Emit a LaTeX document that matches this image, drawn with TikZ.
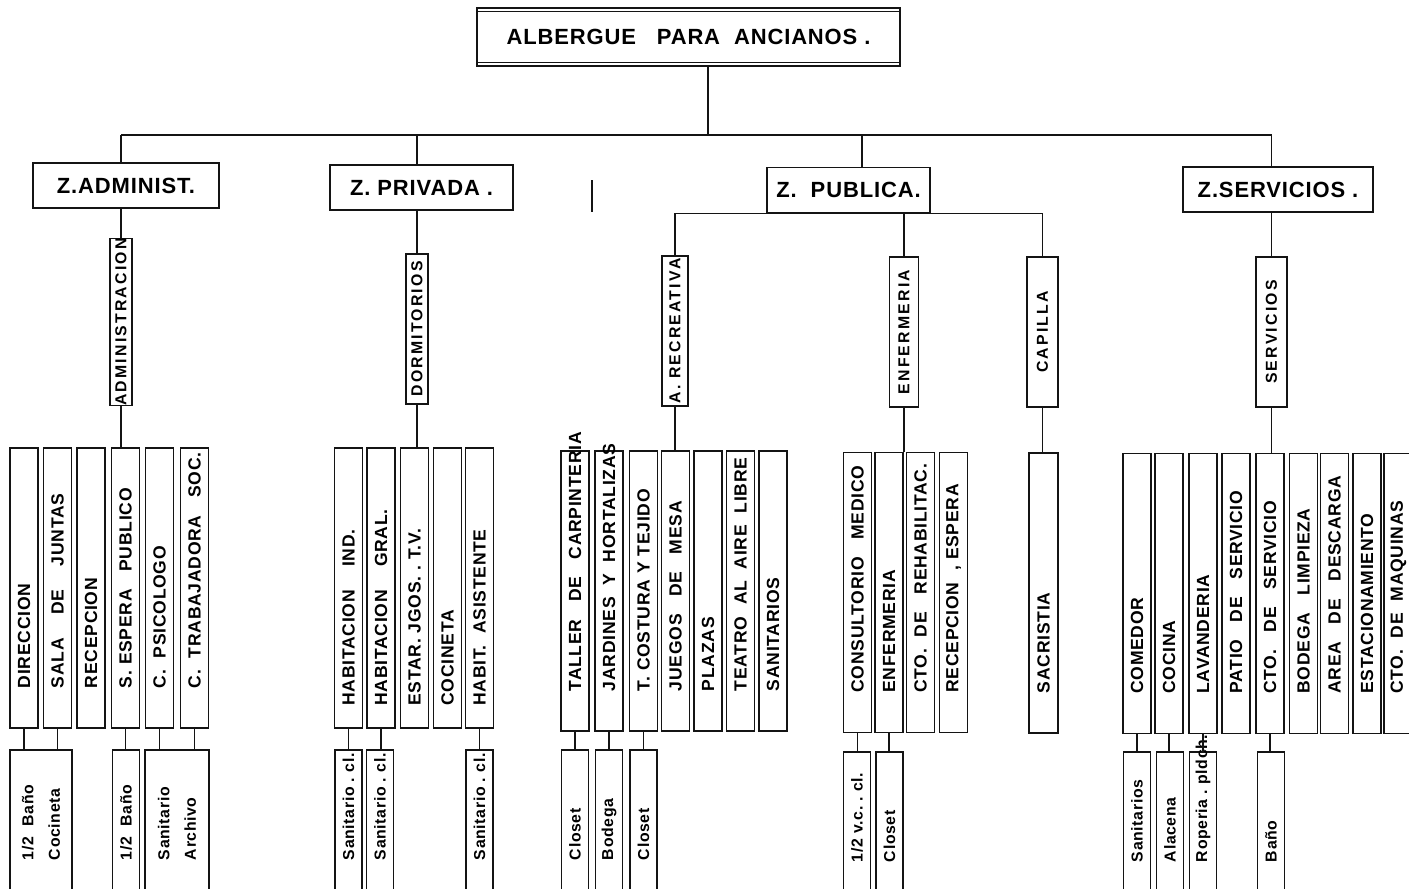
\documentclass[tikz,border=0pt]{standalone}
\usepackage{fontspec}
\setmainfont{Liberation Sans}[LetterSpace=4]
\newfontfamily\widefont{Liberation Sans}[LetterSpace=14]
\usepackage{tikz}
\usetikzlibrary{calc}
\definecolor{plink}{RGB}{20,20,20}
\tikzset{
  pbox/.style={
    draw=plink, line width=0.75pt, inner sep=0pt, fill=white
  },
  headbox/.style={pbox, minimum width=8.46cm, minimum height=1.16cm,
    font=\fontsize{12.5}{15}\selectfont\bfseries},
  zonebox/.style={pbox, minimum height=0.9cm,
    font=\fontsize{12.5}{15}\selectfont\bfseries},
  areabox/.style={pbox, rotate=90, minimum width=3cm,
    font=\widefont\fontsize{9}{11}\selectfont\bfseries},
  roombox/.style={pbox, rotate=90, inner xsep=0.8cm, text width=4cm,
    align=left, minimum height=0.56cm,
    font=\fontsize{10}{12}\selectfont\bfseries},
  subbox/.style={pbox, rotate=90, inner xsep=0.8cm, text width=1.4cm,
    align=left, minimum height=0.54cm,
    font=\fontsize{9}{15}\selectfont\bfseries},
  wire/.style={draw=plink, line width=0.75pt}
}

\begin{document}
\hyphenpenalty=10000
\exhyphenpenalty=10000
\begin{tikzpicture}[x=0.2mm, y=-0.2mm]
  \useasboundingbox (0,0) rectangle (1409,888);
  \fill[white] (0,0) rectangle (1409,888);
  \clip (0,0) rectangle (1409,888);

  % title and zones
  \node[headbox] (title) at (688.5,37) {ALBERGUE~~~PARA~~ANCIANOS~.};
  \draw[wire] ([yshift=-2.5pt]title.north west) -- ([yshift=-2.5pt]title.north east);
  \draw[wire] ([yshift=2.5pt]title.south west) -- ([yshift=2.5pt]title.south east);
  \node[zonebox, minimum width=3.72cm] (zadm) at (126,185.5) {Z.ADMINIST.};
  \node[zonebox, minimum width=3.66cm] (zpri) at (421.5,187.5) {Z.~PRIVADA~.};
  \node[zonebox, minimum width=3.26cm] (zpub) at (848.5,190) {Z.~~PUBLICA.};
  \node[zonebox, minimum width=3.8cm] (zsrv) at (1278,189.5) {Z.SERVICIOS~.};
  \coordinate (mark) at (592,180);
  \draw[wire] (mark) -- ++(0,32);

  % areas
  \node[areabox, minimum height=0.44cm] (adm) at (121,322) {ADMINISTRACION};
  \node[areabox, minimum height=0.44cm] (dorm) at (417,329) {DORMITORIOS};
  \node[areabox, minimum height=0.52cm] (recr) at (675,331) {A.~RECREATIVA};
  \node[areabox, minimum height=0.58cm] (enf) at (904,332) {ENFERMERIA};
  \node[areabox, minimum height=0.62cm] (cap) at (1042.5,332) {CAPILLA};
  \node[areabox, minimum height=0.62cm] (srv) at (1271.5,332) {SERVICIOS};

  % z. administrativa
  \node[roombox] (dir) at (24,588) {DIRECCION};
  \node[roombox] (sala) at (57.5,588) {SALA~~~~DE~~~~JUNTAS};
  \node[roombox] (recep) at (91,588) {RECEPCION};
  \node[roombox] (espera) at (125.5,588) {S.~ESPERA~~~PUBLICO};
  \node[roombox] (psico) at (159.5,588) {C.~~PSICOLOGO};
  \node[roombox] (trab) at (194.5,588) {C.~~TRABAJADORA~~~SOC.};
  \node[subbox, minimum height=1.24cm] (bano1) at (41,825) {1/2~~Baño\\Cocineta};
  \node[subbox] (bano2) at (126,825) {1/2~~Baño};
  \node[subbox, minimum height=1.28cm] (sanarch) at (177,825) {Sanitario\\Archivo};

  % z. privada
  \node[roombox, inner xsep=0.45cm, text width=4.7cm] (habind) at (348.5,588) {HABITACION~~~~IND.};
  \node[roombox, inner xsep=0.45cm, text width=4.7cm] (habgral) at (381,588) {HABITACION~~~~GRAL.};
  \node[roombox, inner xsep=0.45cm, text width=4.7cm] (estar) at (414.5,588) {ESTAR.~JGOS.~.~T.V.};
  \node[roombox, inner xsep=0.45cm, text width=4.7cm] (cocin) at (447.5,588) {COCINETA};
  \node[roombox, inner xsep=0.45cm, text width=4.7cm] (habasis) at (479.5,588) {HABIT.~~ASISTENTE};
  \node[subbox] (sana) at (348.5,825) {Sanitario~.~cl.};
  \node[subbox] (sanb) at (380,825) {Sanitario~.~cl.};
  \node[subbox] (sanc) at (479.5,825) {Sanitario~.~cl.};

  % z. publica
  \node[roombox] (taller) at (575,591) {TALLER~~~DE~~~CARPINTERIA};
  \node[roombox] (jard) at (609,591) {JARDINES~~Y~~HORTALIZAS};
  \node[roombox] (cost) at (643.5,591) {T.~COSTURA~Y~TEJIDO};
  \node[roombox] (juegos) at (675.5,591) {JUEGOS~~~DE~~~MESA};
  \node[roombox] (plazas) at (708,591) {PLAZAS};
  \node[roombox] (teatro) at (740.5,591) {TEATRO~~AL~~AIRE~~LIBRE};
  \node[roombox] (sanit) at (773,591) {SANITARIOS};
  \node[subbox] (clo1) at (575,825) {Closet};
  \node[subbox] (bod) at (609,825) {Bodega};
  \node[subbox] (clo2) at (643.5,825) {Closet};
  \node[roombox] (consul) at (857.5,592.5) {CONSULTORIO~~~MEDICO};
  \node[roombox] (enfrm) at (889,592.5) {ENFERMERIA};
  \node[roombox] (rehab) at (920.5,592.5) {CTO.~~DE~~~REHABILITAC.};
  \node[roombox] (recesp) at (953.5,592.5) {RECEPCION~~,~ESPERA};
  \node[roombox, minimum height=0.58cm] (sacr) at (1043.5,593) {SACRISTIA};
  \node[subbox] (vc) at (857,827) {1/2~v.c.~.~cl.};
  \node[subbox] (clo3) at (889.5,827) {Closet};

  % z. servicios
  \node[roombox] (comedor) at (1137,593.5) {COMEDOR};
  \node[roombox] (cocina) at (1169,593.5) {COCINA};
  \node[roombox] (lavand) at (1203,593.5) {LAVANDERIA};
  \node[roombox] (patio) at (1236,593.5) {PATIO~~~DE~~~SERVICIO};
  \node[roombox] (ctoserv) at (1270,593.5) {CTO.~~~DE~~~SERVICIO};
  \node[roombox] (bodlimp) at (1303.5,593.5) {BODEGA~~~LIMPIEZA};
  \node[roombox] (descarga) at (1334.5,593.5) {AREA~~~DE~~~DESCARGA};
  \node[roombox] (estac) at (1367,593.5) {ESTACIONAMIENTO};
  \node[roombox, minimum height=0.58cm] (maquinas) at (1398.5,593.5) {CTO.~~DE~~MAQUINAS};
  \node[subbox] (sanits) at (1137,827) {Sanitarios};
  \node[subbox] (alacena) at (1170,827) {Alacena};
  \node[subbox] (roperia) at (1203,827) {Roperia~.~pldch.};
  \node[subbox] (bano3) at (1271,827) {Baño};

  % connectors
  \coordinate (bus) at (0,135);
  \coordinate (tap) at (708,135);
  \coordinate (pubtap) at (862,135);
  \draw[wire] (tap) -- (tap |- title.south);
  \draw[wire] (adm.east |- bus) -- (srv.east |- bus);
  \draw[wire] (adm.east |- bus) -- (adm.east |- zadm.north);
  \draw[wire] (dorm.east |- bus) -- (dorm.east |- zpri.north);
  \draw[wire] (pubtap) -- (pubtap |- zpub.north);
  \draw[wire] (srv.east |- bus) -- (srv.east |- zsrv.north);
  \draw[wire] (adm.east |- zadm.south) -- (adm.east);
  \draw[wire] (dorm.east |- zpri.south) -- (dorm.east);
  \draw[wire] (recr.east) |- (zpub.south) -| (cap.east);
  \draw[wire] (enf.east |- zpub.south) -- (enf.east);
  \draw[wire] (srv.east |- zsrv.south) -- (srv.east);
  \draw[wire] (adm.west) -- (adm.west |- espera.east);
  \draw[wire] (dorm.west) -- (dorm.west |- estar.east);
  \draw[wire] (recr.west) -- (recr.west |- juegos.east);
  \draw[wire] (enf.west) -- (enf.west |- rehab.east);
  \draw[wire] (cap.west) -- (cap.west |- sacr.east);
  \draw[wire] (srv.west) -- (srv.west |- ctoserv.east);
  \draw[wire] (dir.west) -- (dir.west |- bano1.east);
  \draw[wire] (sala.west) -- (sala.west |- bano1.east);
  \draw[wire] (espera.west) -- (espera.west |- bano2.east);
  \draw[wire] (psico.west) -- (psico.west |- sanarch.east);
  \draw[wire] (trab.west) -- (trab.west |- sanarch.east);
  \draw[wire] (habind.west) -- (habind.west |- sana.east);
  \draw[wire] (habgral.west) -- (habgral.west |- sanb.east);
  \draw[wire] (habasis.west) -- (habasis.west |- sanc.east);
  \draw[wire] (taller.west) -- (taller.west |- clo1.east);
  \draw[wire] (jard.west) -- (jard.west |- bod.east);
  \draw[wire] (cost.west) -- (cost.west |- clo2.east);
  \draw[wire] (consul.west) -- (consul.west |- vc.east);
  \draw[wire] (enfrm.west) -- (enfrm.west |- clo3.east);
  \draw[wire] (comedor.west) -- (comedor.west |- sanits.east);
  \draw[wire] (cocina.west) -- (cocina.west |- alacena.east);
  \draw[wire] (lavand.west) -- (lavand.west |- roperia.east);
  \draw[wire] (ctoserv.west) -- (ctoserv.west |- bano3.east);
\end{tikzpicture}
\end{document}
